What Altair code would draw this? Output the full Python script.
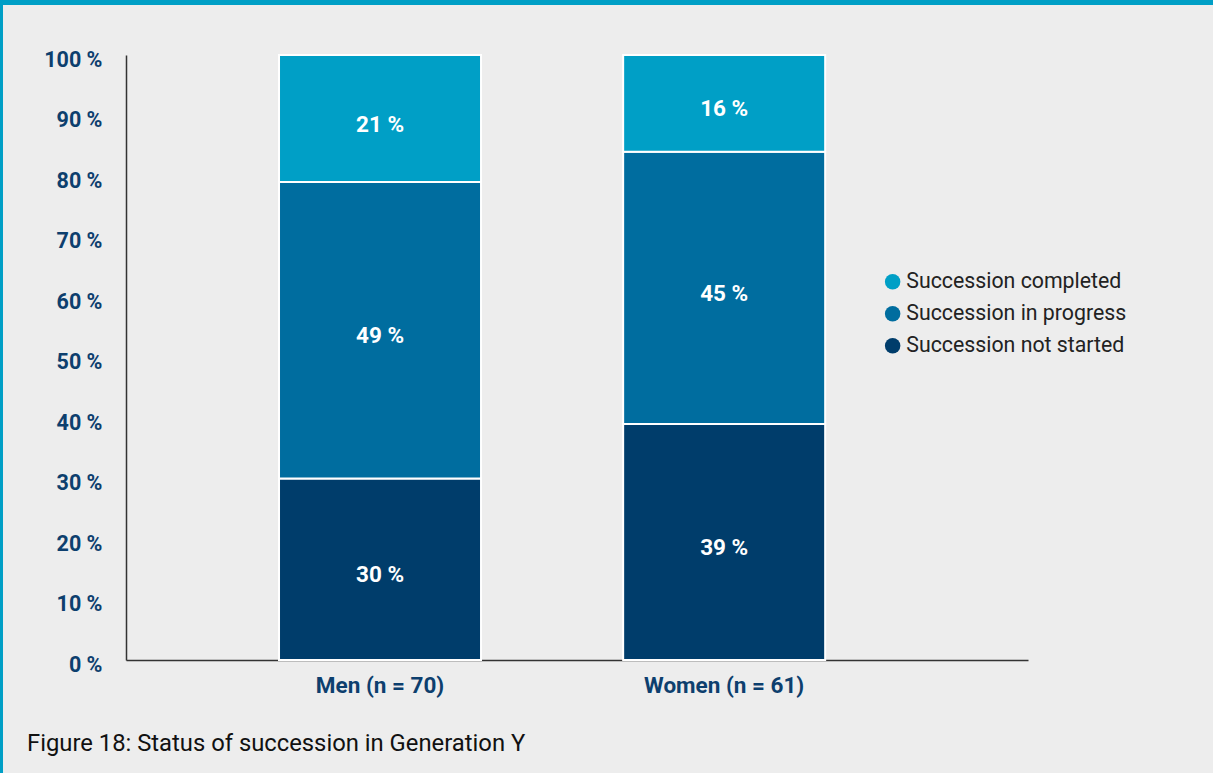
import altair as alt
import pandas as pd

groups = ["Men (n = 70)", "Women (n = 61)"]
statuses = ["Succession not started", "Succession in progress", "Succession completed"]
men_values = [30, 49, 21]
women_values = [39, 45, 16]
colors = ["#003D6B", "#006D9F", "#009FC6"]
legend_order = ["Succession completed", "Succession in progress", "Succession not started"]
y_ticks = [0, 10, 20, 30, 40, 50, 60, 70, 80, 90, 100]
caption = "Figure 18: Status of succession in Generation Y"

rows = []
for g, vals in zip(groups, [men_values, women_values]):
    for i, (s, v) in enumerate(zip(statuses, vals)):
        rows.append({"group": g, "status": s, "value": v, "order": i})
df = pd.DataFrame(rows)

W, H = 902, 605
DARK = "#0D3F6E"

base = alt.Chart(df).transform_stack(
    stack="value", groupby=["group"], sort=[alt.SortField("order", order="ascending")],
    as_=["lo", "hi"]
).transform_calculate(mid="(datum.lo + datum.hi) / 2")

xenc = alt.X("group:N", sort=groups, title=None,
             scale=alt.Scale(paddingInner=0.413, paddingOuter=0.517, align=0.43),
             axis=alt.Axis(labelAngle=0, labelFont="Roboto", labelFontWeight="bold",
                           labelFontSize=22.5, labelColor=DARK, ticks=False,
                           domainColor="#333333", domainWidth=1.5, labelPadding=14))

bars = base.mark_bar(stroke="white", strokeWidth=2).encode(
    x=xenc,
    y=alt.Y("lo:Q", scale=alt.Scale(domain=[0, 100], nice=False), title=None,
            axis=alt.Axis(values=y_ticks, labelExpr="datum.value + ' %'", grid=False, ticks=False,
                          labelFont="Roboto", labelFontWeight="bold", labelFontSize=21.5,
                          labelColor=DARK, domainColor="#333333", domainWidth=1.5,
                          labelPadding=24, labelOffset=5)),
    y2="hi:Q",
    color=alt.Color("status:N", scale=alt.Scale(domain=statuses, range=colors),
                    sort=legend_order,
                    legend=alt.Legend(title=None, orient="none", legendX=756, legendY=216,
                                      symbolType="circle", symbolSize=240, symbolStrokeWidth=0,
                                      labelFont="Roboto", labelFontSize=21.3, labelColor="#222222",
                                      labelLimit=0, rowPadding=10, labelOffset=3,
                                      values=legend_order)),
)

labels = base.mark_text(color="white", font="Roboto", fontWeight="bold", fontSize=22.5, dy=6).encode(
    x=alt.X("group:N", sort=groups),
    y=alt.Y("mid:Q"),
    text=alt.Text("label:N"),
).transform_calculate(label="datum.value + ' %'")

caption_text = alt.Chart(pd.DataFrame({"caption": [caption]})).mark_text(
    align="left", baseline="middle", font="Roboto", fontSize=23.8, color="#111111"
).encode(x=alt.value(-99), y=alt.value(689), text="caption:N")

border_top = alt.Chart(df).mark_rect(color="#009FC6").encode(
    x=alt.value(-126), x2=alt.value(1213 - 126), y=alt.value(-55), y2=alt.value(-50))
border_left = alt.Chart(df).mark_rect(color="#009FC6").encode(
    x=alt.value(-126), x2=alt.value(-123), y=alt.value(-55), y2=alt.value(773 - 55))

chart = alt.layer(border_top, border_left, bars, labels, caption_text).properties(
    width=W, height=H,
    autosize=alt.AutoSizeParams(type="none"),
    padding={"left": 126, "top": 55, "right": 1213 - 126 - W, "bottom": 773 - 55 - H},
    background="#EDEDED",
).configure_view(stroke=None)

chart.save("out.html", embed_options={"renderer": "svg", "actions": False})
